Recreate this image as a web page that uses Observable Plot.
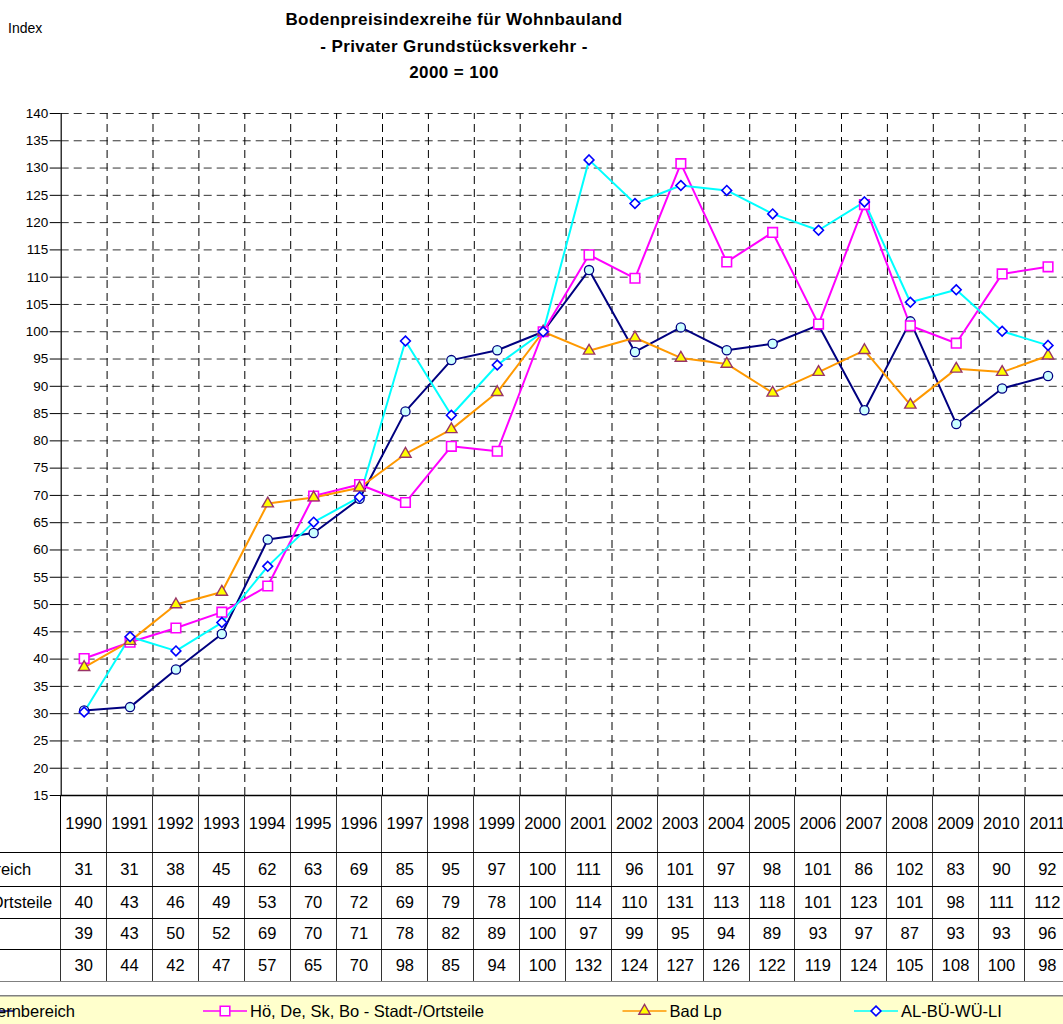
<!DOCTYPE html>
<html><head><meta charset="utf-8">
<script src="https://cdn.jsdelivr.net/npm/d3@7"></script>
<script src="https://cdn.jsdelivr.net/npm/@observablehq/plot@0.6"></script>
<style>
html,body{margin:0;padding:0;}
body{width:1063px;height:1024px;overflow:hidden;position:relative;background:#fff;font-family:"Liberation Sans",Arial,sans-serif;color:#000;}
#title{position:absolute;left:254px;width:400px;top:7px;text-align:center;font-weight:bold;font-size:17px;letter-spacing:0.4px;line-height:26.5px;}
#ylab{position:absolute;left:8px;top:20px;font-size:14px;}
#chart{position:absolute;left:0;top:0;width:1100px;}
#chart svg{overflow:visible;max-width:none !important;}
table{position:absolute;left:0;top:795px;border-collapse:collapse;table-layout:fixed;font-size:16.5px;}
td{padding:0;text-align:center;white-space:nowrap;border-top:1px solid #000;border-bottom:1px solid #000;border-left:1px solid #333;border-right:1px solid #333;}
td.lab{border-left:none;position:relative;}
td.lab div{position:absolute;top:50%;transform:translateY(-50%);}
tr.head td{border-top:none;}
tr.head td.lab{border-right:1px solid #000;}
tr.last td{border-bottom:1px solid #808080;}
#legend{position:absolute;left:0;top:995px;}
</style>
</head><body>
<div id="title"></div>
<div id="ylab">Index</div>
<div id="chart"></div>
<div id="legend"></div>
<script>
// ---- data ----
const years = [1990,1991,1992,1993,1994,1995,1996,1997,1998,1999,2000,2001,2002,2003,2004,2005,2006,2007,2008,2009,2010,2011];
const seriesNames = ["Kernbereich", "Hö, De, Sk, Bo - Stadt-/Ortsteile", "Bad Lp", "AL-BÜ-WÜ-LI"];
// plotted index values
const kernbereich = [30.6,31.2,38.1,44.6,61.9,63.1,69.4,85.4,94.8,96.6,100,111.3,96.3,100.8,96.6,97.8,101.2,85.6,101.9,83.1,89.6,91.9];
const stadtteile  = [40.1,43.1,45.7,48.6,53.4,69.9,72.0,68.7,79.0,78.1,100,114.1,109.8,130.8,112.8,118.2,101.4,123.3,101.1,97.9,110.6,111.9];
const badLp       = [38.5,43.3,50.0,52.3,68.5,69.6,71.4,77.6,82.1,88.9,100,96.5,98.9,95.2,94.1,88.8,92.6,96.6,86.6,93.2,92.6,95.6];
const alBuWuLi    = [30.3,44.1,41.5,46.7,57.0,65.1,69.7,98.3,84.7,93.9,100,131.5,123.5,126.8,125.9,121.6,118.6,123.8,105.4,107.7,100.1,97.5];
// printed table values
const tabKern   = [31,31,38,45,62,63,69,85,95,97,100,111,96,101,97,98,101,86,102,83,90,92];
const tabStadt  = [40,43,46,49,53,70,72,69,79,78,100,114,110,131,113,118,101,123,101,98,111,112];
const tabBadLp  = [39,43,50,52,69,70,71,78,82,89,100,97,99,95,94,89,93,97,87,93,93,96];
const tabAlBu   = [30,44,42,47,57,65,70,98,85,94,100,132,124,127,126,122,119,124,105,108,100,98];
const yTicks = [15,20,25,30,35,40,45,50,55,60,65,70,75,80,85,90,95,100,105,110,115,120,125,130,135,140];
const titleLines = ["Bodenpreisindexreihe für Wohnbauland", "- Privater Grundstücksverkehr -", "2000 = 100"];

// ---- styles ----
const styles = [
  {stroke:"#000080", symbol:"circle",   r:4.6, fill:"#CCFFFF", mstroke:"#000080", sw:1.3},
  {stroke:"#FF00FF", symbol:"square",   r:5.4, fill:"#FFFFFF", mstroke:"#FF00FF", sw:1.6},
  {stroke:"#FF9900", symbol:"triangle", r:4.2, fill:"#FFFF00", mstroke:"#993366", sw:1.4},
  {stroke:"#00FFFF", symbol:"diamond2", r:4.4, fill:"#FFFFFF", mstroke:"#0000FF", sw:1.6}
];
const plotValues = [kernbereich, stadtteile, badLp, alBuWuLi];
const tableValues = [tabKern, tabStadt, tabBadLp, tabAlBu];

document.getElementById("title").innerHTML = titleLines.join("<br>");

const x0 = 60.7, colW = 45.9, W = 1100;
const xRight = x0 + years.length*colW;
const font = '"Liberation Sans", Arial, sans-serif';

const marks = [
  Plot.ruleY(yTicks.filter(d => d > 15), {stroke:"#333", strokeDasharray:"8,5", strokeWidth:1}),
  Plot.ruleX(years.slice(0,-1).map(d => d + 0.5), {y1:15, y2:140, stroke:"#000", strokeDasharray:"8,5", strokeWidth:1}),
  Plot.ruleY([15], {stroke:"#000", strokeWidth:1.5}),
  Plot.ruleX([years[0]-0.5], {y1:15, y2:140, stroke:"#000", strokeWidth:1.2}),
  Plot.axisY({ticks:yTicks, tickSize:11, tickPadding:2, label:null, fontSize:13.5, tickFormat:d=>String(d)})
];
const data = plotValues.map((vals,i) => vals.map((v,j) => ({year:years[j], value:v, s:i})));
data.forEach((d,i) => marks.push(Plot.line(d, {x:"year", y:"value", stroke:styles[i].stroke, strokeWidth:2})));
data.forEach((d,i) => marks.push(Plot.dot(d, {x:"year", y:"value", symbol:styles[i].symbol, r:styles[i].r,
  fill:styles[i].fill, stroke:styles[i].mstroke, strokeWidth:styles[i].sw})));

const chart = Plot.plot({
  width: W, height: 800,
  marginTop:113, marginBottom:5, marginLeft:x0, marginRight: W - xRight,
  x: {domain:[years[0]-0.5, years[years.length-1]+0.5], range:[x0, xRight], axis:null},
  y: {domain:[15,140], range:[795,113], axis:null},
  style: {fontFamily:font, fontSize:"13.5px", background:"transparent", maxWidth:"none", overflow:"visible"},
  marks
});
chart.style.maxWidth = "none";
chart.style.width = W + "px";
chart.style.height = "800px";
document.getElementById("chart").appendChild(chart);

// ---- data table ----
const table = document.createElement("table");
table.style.width = xRight + "px";
const cg = document.createElement("colgroup");
const c0 = document.createElement("col"); c0.style.width = x0 + "px"; cg.appendChild(c0);
years.forEach(() => { const c = document.createElement("col"); c.style.width = colW + "px"; cg.appendChild(c); });
table.appendChild(cg);
const rowH = [57, 34.5, 31.6, 31.7, 31.7];
const head = document.createElement("tr"); head.className = "head"; head.style.height = rowH[0] + "px";
const h0 = document.createElement("td"); h0.className = "lab"; head.appendChild(h0);
years.forEach(y => { const td = document.createElement("td"); td.textContent = y; head.appendChild(td); });
table.appendChild(head);
const labelDivs = [];
tableValues.forEach((vals, i) => {
  const tr = document.createElement("tr"); tr.style.height = rowH[i+1] + "px";
  if (i === tableValues.length-1) tr.className = "last";
  const lab = document.createElement("td"); lab.className = "lab";
  const dv = document.createElement("div"); dv.textContent = seriesNames[i];
  lab.appendChild(dv); tr.appendChild(lab); labelDivs.push(dv);
  vals.forEach(v => { const td = document.createElement("td"); td.textContent = v; tr.appendChild(td); });
  table.appendChild(tr);
});
document.body.appendChild(table);
// row labels: row 1 ends at ~31.7px, row 2 at ~52.7px, others left-aligned with row 2 (off-screen)
labelDivs[0].style.right = (x0 - 31.7) + "px";
labelDivs[1].style.right = (x0 - 52.7) + "px";
const w2 = labelDivs[1].getBoundingClientRect().width;
for (let i = 2; i < labelDivs.length; i++) labelDivs[i].style.left = (52.7 - w2) + "px";

// ---- legend ----
const lg = d3.select("#legend").append("svg").attr("width", 1063).attr("height", 30);
lg.append("rect").attr("x",0).attr("y",0).attr("width",1063).attr("height",30).attr("fill","#FFFFCC");
lg.append("line").attr("x1",0).attr("x2",1063).attr("y1",0.75).attr("y2",0.75).attr("stroke","#808080").attr("stroke-width",1.5);
const keyX = [-30, 203, 622.5, 854];
const symMap = {circle:d3.symbolCircle, square:d3.symbolSquare, triangle:d3.symbolTriangle, diamond2:d3.symbolDiamond2};
const ly = 16;
seriesNames.forEach((name,i) => {
  const st = styles[i], kx = keyX[i];
  const g = lg.append("g");
  g.append("line").attr("x1",kx).attr("x2",kx+44).attr("y1",ly).attr("y2",ly).attr("stroke",st.stroke).attr("stroke-width",1.5);
  g.append("path").attr("transform",`translate(${kx+22},${ly})`)
    .attr("d", d3.symbol(symMap[st.symbol], Math.PI*st.r*st.r)())
    .attr("fill", st.fill).attr("stroke", st.mstroke).attr("stroke-width", st.sw);
  const t = g.append("text").attr("y", ly).attr("dy","0.36em").attr("font-size","16.5px").attr("font-family",font).text(name);
  if (i === 0) t.attr("x", 75).attr("text-anchor","end");
  else t.attr("x", kx+47);
});
</script>
</body></html>
